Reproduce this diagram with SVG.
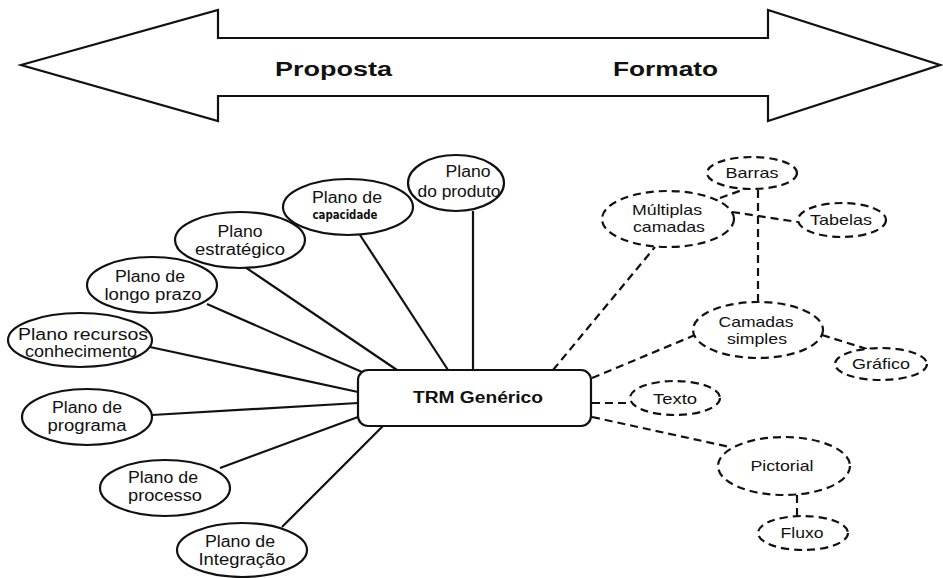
<svg xmlns="http://www.w3.org/2000/svg" width="943" height="578" viewBox="0 0 943 578">
<style>
.bg{fill:#ffffff}
.arrow{fill:#ffffff;stroke:#111;stroke-width:2.2;stroke-linejoin:miter}
.big{font-family:"Liberation Sans",Arial,sans-serif;font-weight:bold;font-size:20px;fill:#111}
.solid{fill:#ffffff;stroke:#111;stroke-width:2.2}
.dash{fill:#ffffff;stroke:#111;stroke-width:2.2;stroke-dasharray:8 5}
.ln{stroke:#111;stroke-width:2.2;fill:none}
.dl{stroke:#111;stroke-width:2.2;fill:none;stroke-dasharray:8 5}
.t{font-family:"Liberation Sans",Arial,sans-serif;font-size:16px;fill:#111;text-anchor:middle}
.tr{font-family:"Liberation Sans",Arial,sans-serif;font-size:15px;fill:#111;text-anchor:middle}
.tb{font-family:"Liberation Sans",Arial,sans-serif;font-size:16px;font-weight:bold;fill:#111;text-anchor:middle}
.ts{font-family:"DejaVu Sans Condensed","DejaVu Sans",sans-serif;font-size:12px;font-weight:bold;fill:#111;text-anchor:middle}
</style>
<rect class="bg" x="0" y="0" width="943" height="578"/>
<g id="banner">
<polygon class="arrow" points="21,65 218,10 218,38 768,38 768,10 940,65 768,121 768,96 218,96 218,121"/>
<text class="big" x="275" y="76" textLength="117" lengthAdjust="spacingAndGlyphs">Proposta</text>
<text class="big" x="613" y="76" textLength="105" lengthAdjust="spacingAndGlyphs">Formato</text>
</g>
<g id="connectors">
<line class="ln" x1="473" y1="211" x2="473" y2="370"/>
<line class="ln" x1="360" y1="235" x2="448" y2="370"/>
<line class="ln" x1="245" y1="267" x2="397" y2="370"/>
<line class="ln" x1="207" y1="304" x2="362" y2="372"/>
<line class="ln" x1="150" y1="347" x2="358" y2="392"/>
<line class="ln" x1="152" y1="415" x2="358" y2="403"/>
<line class="ln" x1="220" y1="468" x2="358" y2="417"/>
<line class="ln" x1="282" y1="527" x2="383" y2="426"/>
<line class="dl" x1="553" y1="370" x2="655" y2="247"/>
<line class="dl" x1="592" y1="378" x2="695" y2="335"/>
<line class="dl" x1="720" y1="198" x2="745" y2="189"/>
<line class="dl" x1="732" y1="212" x2="798" y2="222"/>
<line class="dl" x1="758" y1="190" x2="758" y2="302"/>
<line class="dl" x1="822" y1="335" x2="867" y2="349"/>
<line class="dl" x1="592" y1="403" x2="630" y2="403"/>
<line class="dl" x1="592" y1="417" x2="730" y2="447"/>
<line class="dl" x1="797" y1="495" x2="797" y2="517"/>
</g>
<g id="trm">
<rect class="solid" x="358" y="370" width="233" height="56" rx="10"/>
<text class="tb" x="478" y="403" textLength="130" lengthAdjust="spacingAndGlyphs">TRM Genérico</text>
</g>
<g id="n-produto">
<ellipse class="solid" cx="456" cy="183" rx="48" ry="28"/>
<text class="t" x="468" y="177" textLength="45" lengthAdjust="spacingAndGlyphs">Plano</text>
<text class="t" x="459" y="197" textLength="83" lengthAdjust="spacingAndGlyphs">do produto</text>
</g>
<g id="n-capacidade">
<ellipse class="solid" cx="348" cy="207" rx="65" ry="28"/>
<text class="t" x="347" y="203" textLength="70" lengthAdjust="spacingAndGlyphs">Plano de</text>
<text class="ts" x="345" y="219" textLength="65" lengthAdjust="spacingAndGlyphs">capacidade</text>
</g>
<g id="n-estrategico">
<ellipse class="solid" cx="240" cy="240" rx="65" ry="28"/>
<text class="t" x="240" y="237" textLength="45" lengthAdjust="spacingAndGlyphs">Plano</text>
<text class="t" x="240" y="255" textLength="90" lengthAdjust="spacingAndGlyphs">estratégico</text>
</g>
<g id="n-longo">
<ellipse class="solid" cx="152" cy="285" rx="65" ry="28"/>
<text class="t" x="150" y="282" textLength="70" lengthAdjust="spacingAndGlyphs">Plano de</text>
<text class="t" x="153" y="300" textLength="97" lengthAdjust="spacingAndGlyphs">longo prazo</text>
</g>
<g id="n-recursos">
<ellipse class="solid" cx="80" cy="340" rx="72" ry="27"/>
<text class="t" x="83" y="340" textLength="130" lengthAdjust="spacingAndGlyphs">Plano recursos</text>
<text class="t" x="81" y="357" textLength="112" lengthAdjust="spacingAndGlyphs">conhecimento</text>
</g>
<g id="n-programa">
<ellipse class="solid" cx="87" cy="417" rx="65" ry="28"/>
<text class="t" x="87" y="413" textLength="70" lengthAdjust="spacingAndGlyphs">Plano de</text>
<text class="t" x="87" y="431" textLength="79" lengthAdjust="spacingAndGlyphs">programa</text>
</g>
<g id="n-processo">
<ellipse class="solid" cx="165" cy="488" rx="65" ry="28"/>
<text class="t" x="163" y="483" textLength="70" lengthAdjust="spacingAndGlyphs">Plano de</text>
<text class="t" x="165" y="501" textLength="74" lengthAdjust="spacingAndGlyphs">processo</text>
</g>
<g id="n-integracao">
<ellipse class="solid" cx="242" cy="550" rx="65" ry="27"/>
<text class="t" x="240" y="547" textLength="70" lengthAdjust="spacingAndGlyphs">Plano de</text>
<text class="t" x="242" y="565" textLength="87" lengthAdjust="spacingAndGlyphs">Integração</text>
</g>
<g id="n-barras">
<ellipse class="dash" cx="752" cy="173" rx="45" ry="16"/>
<text class="tr" x="752" y="178" textLength="53" lengthAdjust="spacingAndGlyphs">Barras</text>
</g>
<g id="n-multiplas">
<ellipse class="dash" cx="668" cy="219" rx="66" ry="28"/>
<text class="tr" x="667" y="215" textLength="70" lengthAdjust="spacingAndGlyphs">Múltiplas</text>
<text class="tr" x="669" y="232" textLength="72" lengthAdjust="spacingAndGlyphs">camadas</text>
</g>
<g id="n-tabelas">
<ellipse class="dash" cx="842" cy="220" rx="44" ry="17"/>
<text class="tr" x="841" y="225" textLength="62" lengthAdjust="spacingAndGlyphs">Tabelas</text>
</g>
<g id="n-camadas">
<ellipse class="dash" cx="758" cy="330" rx="65" ry="28"/>
<text class="tr" x="756" y="327" textLength="75" lengthAdjust="spacingAndGlyphs">Camadas</text>
<text class="tr" x="757" y="344" textLength="60" lengthAdjust="spacingAndGlyphs">simples</text>
</g>
<g id="n-grafico">
<ellipse class="dash" cx="881" cy="364" rx="46" ry="16"/>
<text class="tr" x="881" y="369" textLength="58" lengthAdjust="spacingAndGlyphs">Gráfico</text>
</g>
<g id="n-texto">
<ellipse class="dash" cx="675" cy="398" rx="45" ry="17"/>
<text class="tr" x="675" y="404" textLength="44" lengthAdjust="spacingAndGlyphs">Texto</text>
</g>
<g id="n-pictorial">
<ellipse class="dash" cx="784" cy="466" rx="66" ry="29"/>
<text class="tr" x="782" y="471" textLength="63" lengthAdjust="spacingAndGlyphs">Pictorial</text>
</g>
<g id="n-fluxo">
<ellipse class="dash" cx="803" cy="533" rx="45" ry="17"/>
<text class="tr" x="802" y="538" textLength="43" lengthAdjust="spacingAndGlyphs">Fluxo</text>
</g>
</svg>
